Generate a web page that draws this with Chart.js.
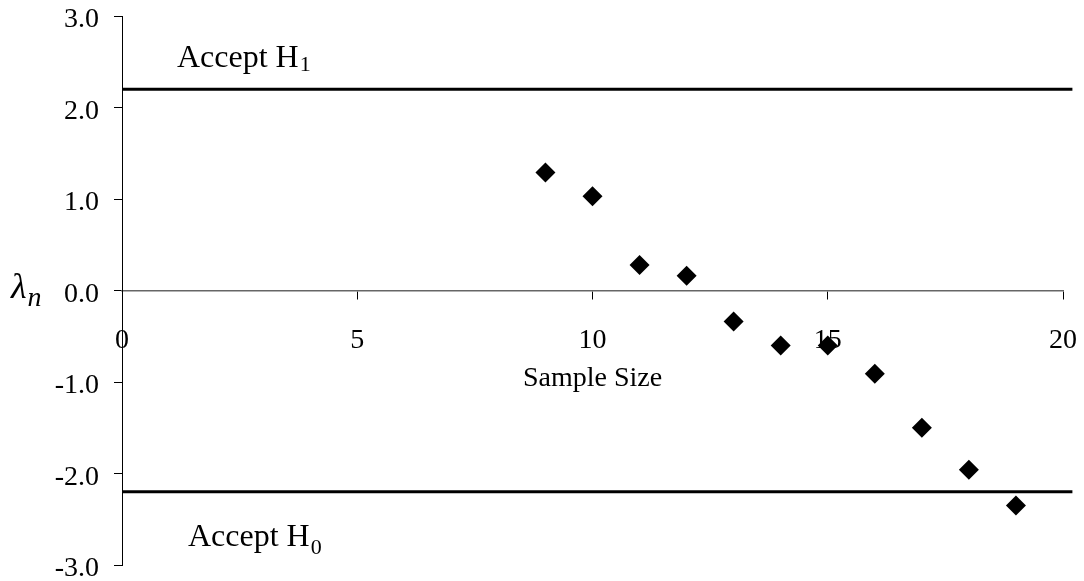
<!DOCTYPE html>
<html>
<head>
<meta charset="utf-8">
<script src="https://cdn.jsdelivr.net/npm/chart.js@4.4.1/dist/chart.umd.min.js"></script>
<style>
html, body { margin: 0; padding: 0; background: #fff; }
</style>
</head>
<body>
<canvas id="chart" width="1084" height="581"></canvas>
<script>
// values
const sampleSizes = [9, 10, 11, 12, 13, 14, 15, 16, 17, 18, 19];
const lambdaValues = [1.29, 1.03, 0.28, 0.16, -0.34, -0.60, -0.60, -0.91, -1.50, -1.96, -2.35];
const upperBound = 2.2;
const lowerBound = -2.2;
const boundEnds = [0, 20.2];
const xRange = [0, 20];
const yRange = [-3, 3];

const serif = "'Liberation Serif', 'Times New Roman', serif";
Chart.defaults.font.family = serif;
Chart.defaults.color = '#000';

function boundLine(y) {
    return {
        type: 'line',
        data: boundEnds.map(x => ({ x: x, y: y })),
        borderColor: '#000',
        borderWidth: 3,
        pointRadius: 0,
        clip: false
    };
}

function drawSub(ctx, text, sub, x, y, shift, size, subSize, italic) {
    const style = italic ? 'italic ' : '';
    ctx.font = style + size + 'px ' + serif;
    ctx.fillText(text, x, y);
    const w = ctx.measureText(text).width;
    ctx.font = style + subSize + 'px ' + serif;
    ctx.fillText(sub, x + w + 1, y + shift);
}

const textPlugin = {
    id: 'textLabels',
    afterDraw(chart) {
        const ctx = chart.ctx;
        const x = chart.scales.x;
        ctx.save();
        ctx.fillStyle = '#000';
        ctx.textBaseline = 'alphabetic';
        ctx.textAlign = 'left';
        drawSub(ctx, 'Accept H', '1', 177, 67, 4, 32, 22, false);
        drawSub(ctx, 'Accept H', '0', 188, 546, 8, 32, 22, false);
        drawSub(ctx, 'λ', 'n', 11, 298, 8, 36, 28, true);
        // axis title sits just under the tick labels, as in the original
        ctx.font = '28px ' + serif;
        ctx.textAlign = 'center';
        ctx.fillText('Sample Size', (x.left + x.right) / 2, 386);
        ctx.restore();
    }
};

new Chart(document.getElementById('chart'), {
    type: 'scatter',
    data: {
        datasets: [
            {
                data: sampleSizes.map((n, i) => ({ x: n, y: lambdaValues[i] })),
                pointStyle: 'rectRot',
                pointRadius: 10,
                pointBackgroundColor: '#000',
                pointBorderWidth: 0,
                showLine: false
            },
            boundLine(upperBound),
            boundLine(lowerBound)
        ]
    },
    options: {
        responsive: false,
        animation: false,
        layout: { padding: { top: 16, bottom: 16, left: 0, right: 21 } },
        plugins: {
            legend: { display: false },
            tooltip: { enabled: false }
        },
        scales: {
            x: {
                type: 'linear',
                position: { y: 0 },
                min: xRange[0],
                max: xRange[1],
                afterFit(scale) {
                    scale.paddingLeft = 0;
                    scale.paddingRight = 0;
                    scale.paddingTop = 0;
                    scale.paddingBottom = 0;
                },
                grid: { drawOnChartArea: false, drawTicks: true, tickLength: 8, color: '#000' },
                border: { display: true, color: '#666', width: 1.5 },
                ticks: { stepSize: 5, padding: 25, font: { size: 28 }, maxRotation: 0 }
            },
            y: {
                type: 'linear',
                min: yRange[0],
                max: yRange[1],
                afterFit(scale) {
                    scale.width = 122;
                    scale.paddingTop = 0;
                    scale.paddingBottom = 0;
                },
                grid: { drawOnChartArea: false, drawTicks: true, tickLength: 8, color: '#000' },
                border: { display: true, color: '#000', width: 1 },
                ticks: {
                    stepSize: 1,
                    padding: 15,
                    labelOffset: 4,
                    font: { size: 28 },
                    callback: v => v.toFixed(1)
                }
            }
        }
    },
    plugins: [textPlugin]
});
</script>
</body>
</html>
